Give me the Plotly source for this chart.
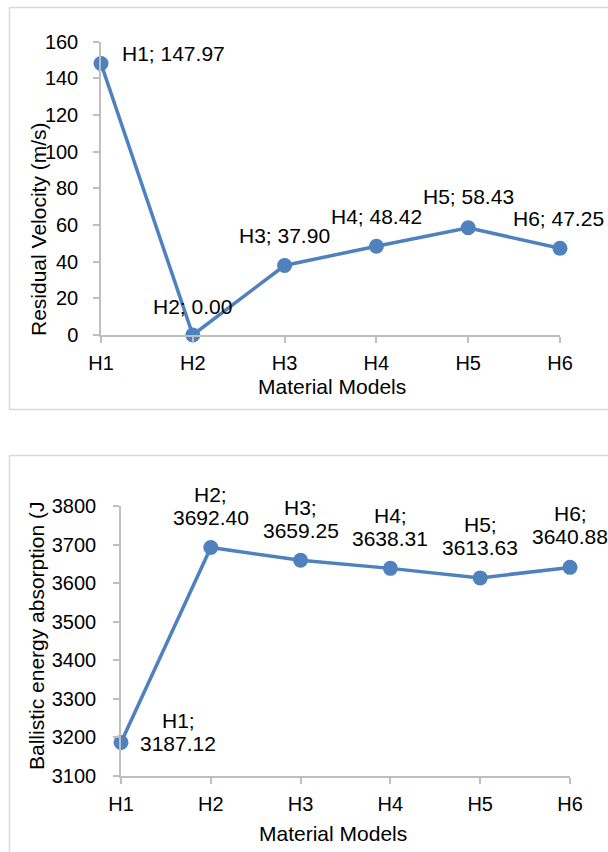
import plotly.graph_objects as go

# ---- data ----
models = ["H1", "H2", "H3", "H4", "H5", "H6"]
residual_velocity = [147.97, 0.00, 37.90, 48.42, 58.43, 47.25]
energy_absorption = [3187.12, 3692.40, 3659.25, 3638.31, 3613.63, 3640.88]
vel_ticks = [0, 20, 40, 60, 80, 100, 120, 140, 160]
energy_ticks = [3100, 3200, 3300, 3400, 3500, 3600, 3700, 3800]

W, H = 608, 852
BLUE = "rgb(79,129,189)"
AXIS = "#BFBFBF"
BORDER = "#D9D9D9"
FONT = "Liberation Sans, Arial, sans-serif"


def px_x(v):
    return v / W


def px_y(v):
    return 1 - v / H


fig = go.Figure()

fig.add_trace(go.Scatter(
    x=models, y=residual_velocity, mode="lines+markers",
    line=dict(color=BLUE, width=3.5), marker=dict(color=BLUE, size=15),
    cliponaxis=False, xaxis="x", yaxis="y", showlegend=False, hoverinfo="skip"))

fig.add_trace(go.Scatter(
    x=models, y=energy_absorption, mode="lines+markers",
    line=dict(color=BLUE, width=3.5), marker=dict(color=BLUE, size=15),
    cliponaxis=False, xaxis="x2", yaxis="y2", showlegend=False, hoverinfo="skip"))

axis_common = dict(
    showline=True, linecolor=AXIS, linewidth=1.5, showgrid=False, zeroline=False,
    ticks="outside", ticklen=6, tickwidth=1.5, tickcolor=AXIS, automargin=False,
    tickfont=dict(family=FONT, size=20, color="#000000"),
)

fig.update_layout(
    width=W, height=H, autosize=False,
    margin=dict(l=0, r=0, t=0, b=0, pad=0, autoexpand=False),
    paper_bgcolor="white", plot_bgcolor="white",
    xaxis=dict(axis_common, type="category", range=[0, 5],
               domain=[px_x(101), px_x(560)], anchor="y", ticklabelstandoff=3),
    yaxis=dict(axis_common, range=[0, 160], tickvals=vel_ticks,
               domain=[px_y(335), px_y(41.5)], anchor="x", ticklabelstandoff=11),
    xaxis2=dict(axis_common, type="category", range=[0, 5],
                domain=[px_x(121), px_x(570)], anchor="y2", ticklabelstandoff=3),
    yaxis2=dict(axis_common, range=[3100, 3800], tickvals=energy_ticks,
                domain=[px_y(776), px_y(506)], anchor="x2", ticklabelstandoff=13),
)

# chart-area borders
fig.add_shape(type="rect", xref="paper", yref="paper",
              x0=px_x(9.5), x1=1.02, y0=px_y(409.5), y1=px_y(7.5),
              line=dict(color=BORDER, width=1.5), fillcolor="rgba(0,0,0,0)")
fig.add_shape(type="rect", xref="paper", yref="paper",
              x0=px_x(9.5), x1=1.02, y0=-0.02, y1=px_y(455.5),
              line=dict(color=BORDER, width=1.5), fillcolor="rgba(0,0,0,0)")

lab_font = dict(family=FONT, size=21, color="#000000")

# top chart data labels
top_shift = [(19, 10, "left"), (0, 28, "center"), (0, 30, "center"),
             (0, 30, "center"), (0, 31, "center"), (-2, 30, "center")]
for m, v, (dx, dy, xa) in zip(models, residual_velocity, top_shift):
    fig.add_annotation(x=m, y=v, xref="x", yref="y", text=f"{m}; {v:.2f}",
                       showarrow=False, xanchor=xa, yanchor="middle",
                       xshift=dx, yshift=dy, font=lab_font)

# bottom chart data labels (two lines)
bot_shift = [(57, 10), (0, 42), (0, 41.5), (0, 41), (0, 42), (0, 42)]
for m, v, (dx, dy) in zip(models, energy_absorption, bot_shift):
    fig.add_annotation(x=m, y=v, xref="x2", yref="y2", text=f"{m};",
                       showarrow=False, xanchor="center", yanchor="middle",
                       xshift=dx, yshift=dy + 11.5, font=lab_font)
    fig.add_annotation(x=m, y=v, xref="x2", yref="y2", text=f"{v:.2f}",
                       showarrow=False, xanchor="center", yanchor="middle",
                       xshift=dx, yshift=dy - 11.5, font=lab_font)

title_font = dict(family=FONT, size=21, color="#000000")
fig.add_annotation(x=px_x(38), y=px_y(338), xref="paper", yref="paper",
                   text="Residual Velocity (m/s)", textangle=-90, showarrow=False,
                   xanchor="center", yanchor="bottom", font=title_font)
fig.add_annotation(x=px_x(332), y=px_y(387), xref="paper", yref="paper",
                   text="Material Models", showarrow=False,
                   xanchor="center", yanchor="middle", font=title_font)
fig.add_annotation(x=px_x(36), y=px_y(772), xref="paper", yref="paper",
                   text="Ballistic energy absorption (J", textangle=-90, showarrow=False,
                   xanchor="center", yanchor="bottom", font=title_font)
fig.add_annotation(x=px_x(333), y=px_y(833), xref="paper", yref="paper",
                   text="Material Models", showarrow=False,
                   xanchor="center", yanchor="middle", font=title_font)

fig.write_html("out.html")
